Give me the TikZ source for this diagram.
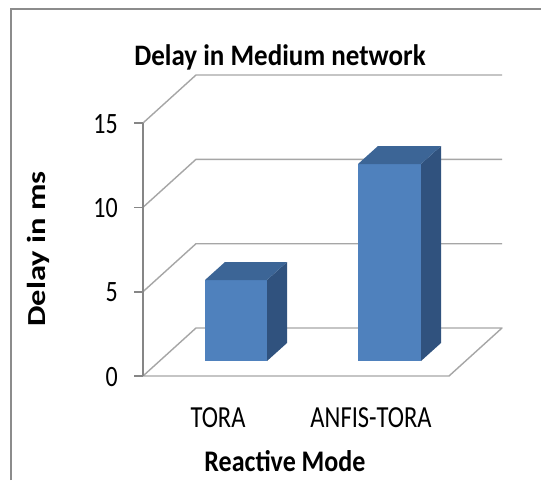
\documentclass[tikz,border=0pt]{standalone}
\usepackage{fontspec}
\setmainfont{Carlito}
\definecolor{gridgray}{HTML}{A6A6A6}
\definecolor{axisgray}{HTML}{868686}
\definecolor{framegray}{HTML}{8C8C8C}
\definecolor{barfront}{HTML}{4F81BD}
\definecolor{bartop}{HTML}{3C6596}
\definecolor{barside}{HTML}{30527E}
\begin{document}
\begin{tikzpicture}[x=1pt,y=-1pt,
  gridln/.style={draw=gridgray, line width=1.4pt, line join=round},
  axisln/.style={draw=axisgray, line width=1.6pt},
  framing/.style={draw=framegray, line width=2pt},
  ticklab/.style={anchor=east, inner sep=0pt, font=\fontsize{24}{28}\selectfont},
  catlab/.style={inner sep=0pt, font=\fontsize{24.5}{28}\selectfont},
  boldlab/.style={inner sep=0pt, font=\fontsize{26}{30}\selectfont\bfseries},
  frontface/.style={fill=barfront},
  topface/.style={fill=bartop},
  sideface/.style={fill=barside}]
\useasboundingbox (0,0) rectangle (541,480);
\fill[white] (0,0) rectangle (541,480);
\draw[framing] (11,480) -- (11,9) -- (541,9);
% floor
\draw[gridln] (143,376) -- (196,328) -- (502,328) -- (449,376) -- cycle;
% gridlines
\foreach \yy in {291.7,207.3,123}{
  \draw[gridln] (143,\yy) -- (196,\yy-48) -- (502,\yy-48);
}
% axis
\draw[axisln] (143,123) -- (143,376);
\foreach \yy in {376,291.7,207.3,123}{
  \draw[axisln] (134,\yy) -- (143,\yy);
}
% bars
\fill[frontface] (205,280) rectangle (267,361);
\fill[sideface] (267,361) -- (287,343) -- (287,262) -- (267,280) -- cycle;
\fill[topface] (205,280) -- (225,262) -- (287,262) -- (267,280) -- cycle;
\fill[frontface] (358,164) rectangle (421,361);
\fill[sideface] (421,361) -- (441,343) -- (441,146) -- (421,164) -- cycle;
\fill[topface] (358,164) -- (378,146) -- (441,146) -- (421,164) -- cycle;
% labels
\node[ticklab] (l15) at (118,124) {\scalebox{1}[1.23]{15}};
\node[ticklab] (l10) at (118,208) {\scalebox{1}[1.23]{10}};
\node[ticklab] (l5) at (118,292.5) {\scalebox{1}[1.23]{5}};
\node[ticklab] (l0) at (118,377) {\scalebox{1}[1.23]{0}};
\node[catlab] (c1) at (218,418) {\scalebox{1}[1.25]{TORA}};
\node[catlab] (c2) at (371,418) {\scalebox{1}[1.25]{ANFIS-TORA}};
\node[boldlab] (xt) at (285,461) {\scalebox{1}[1.15]{Reactive Mode}};
\node[boldlab] (yt) at (38,249) {\rotatebox{90}{\scalebox{1.25}[1]{Delay in ms}}};
\node[inner sep=0pt, font=\fontsize{27}{30}\selectfont\bfseries] (title) at (280,57) {\scalebox{1}[1.1]{Delay in Medium network}};
\end{tikzpicture}
\end{document}
